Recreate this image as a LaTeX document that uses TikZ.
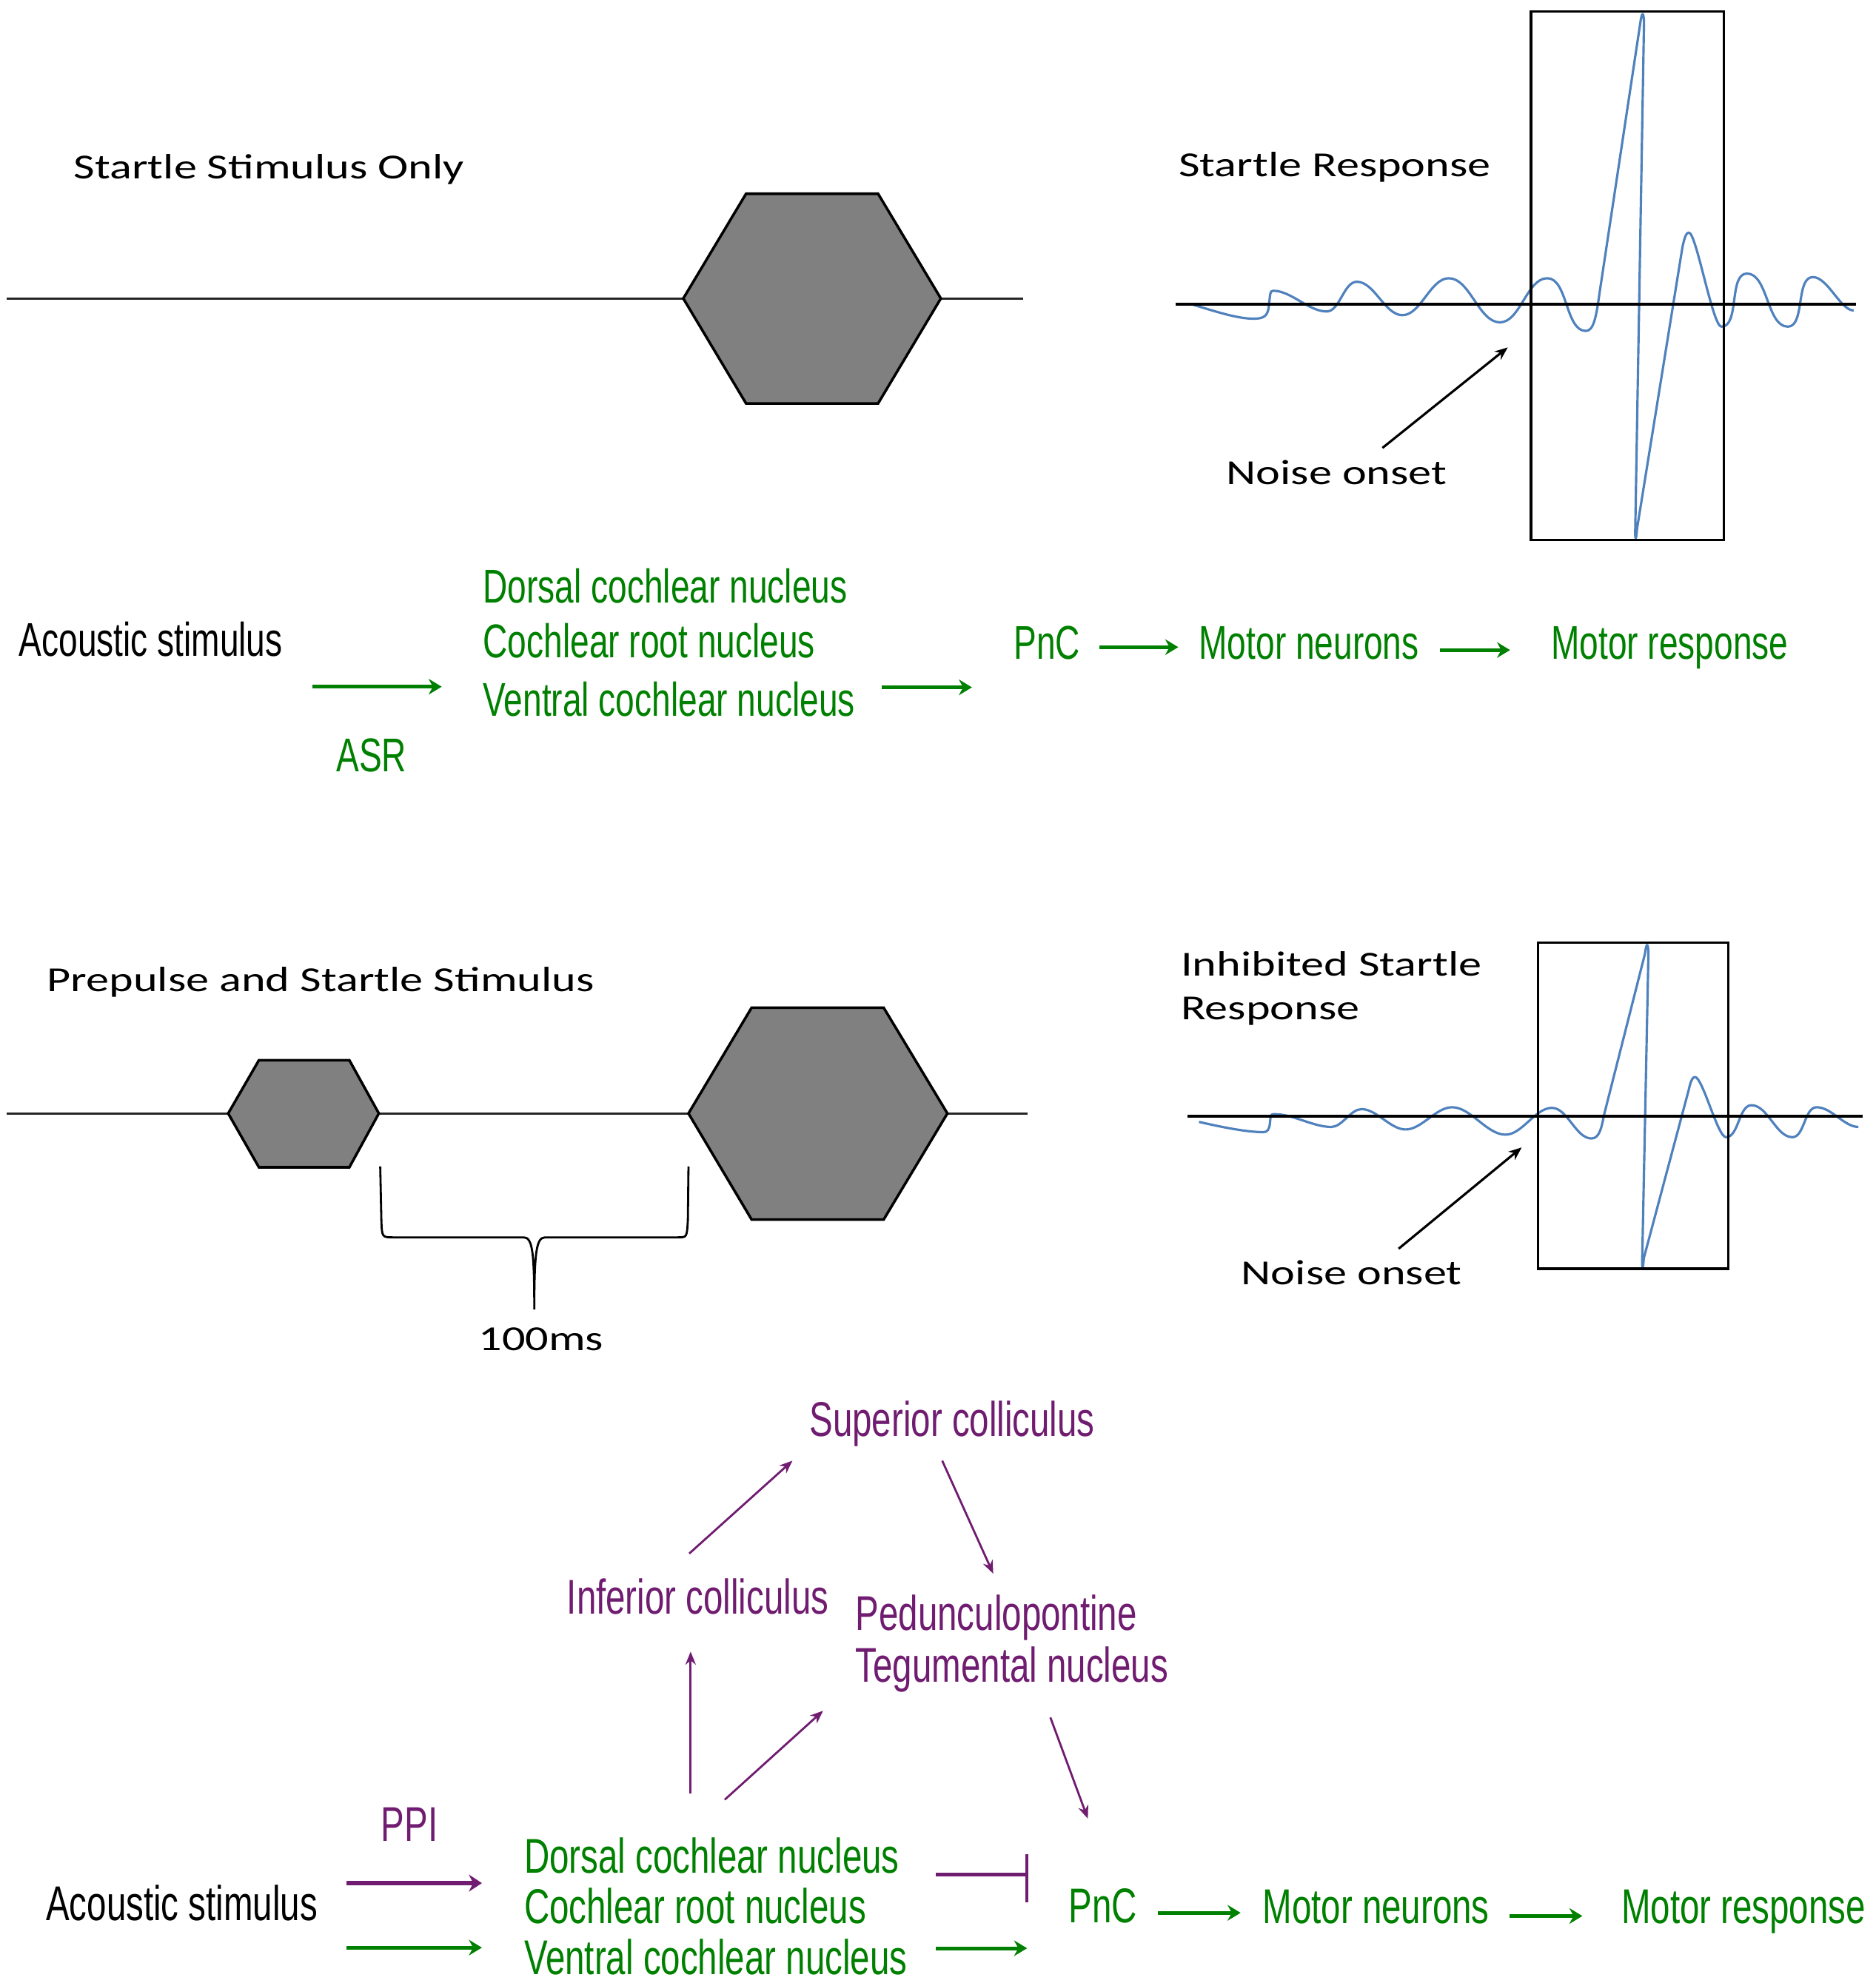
\documentclass[tikz,border=0pt]{standalone}
\usepackage{fontspec}
\setmainfont{Carlito}
\newfontfamily\calw[FakeStretch=1.31]{Carlito}
\newfontfamily\nar[FakeStretch=0.72]{Liberation Sans}
\usetikzlibrary{arrows.meta}
\definecolor{grn}{RGB}{0,128,0}
\definecolor{prp}{RGB}{112,28,112}
\definecolor{wav}{RGB}{79,129,189}
\definecolor{hexg}{RGB}{128,128,128}
\begin{document}
\begin{tikzpicture}[x=0.0170803cm,y=-0.0170803cm,
  ttl/.style={anchor=base west, inner sep=0, font=\calw\fontsize{13.5}{16}\selectfont},
  flowtxt/.style={anchor=base west, inner sep=0, font=\nar\fontsize{18.2}{22}\selectfont},
  flowtxtb/.style={anchor=base west, inner sep=0, font=\nar\fontsize{18.75}{22}\selectfont},
  btxt/.style={flowtxt, text=black},
  gtxt/.style={flowtxt, text=grn},
  btxtb/.style={flowtxtb, text=black},
  gtxtb/.style={flowtxtb, text=grn},
  ptxt/.style={flowtxtb, text=prp},
  stim/.style={line width=0.8pt, black!85},
  hexa/.style={fill=hexg, draw=black, line width=1pt, line join=miter},
  frame/.style={draw=black, line width=0.9pt},
  axisline/.style={black, line width=1.1pt},
  wave/.style={wav, line width=0.9pt, line join=round},
  garrow/.style={grn, line width=1.4pt, -{Stealth[length=5pt,width=6pt]}},
  parrow/.style={prp, line width=0.8pt, -{Stealth[length=5pt,width=4pt]}},
  pthick/.style={prp, line width=1.8pt, -{Stealth[length=5pt,width=6.5pt]}},
  karrow/.style={black, line width=0.9pt, -{Stealth[length=5pt,width=4pt]}}
]
\useasboundingbox (0,0) rectangle (1483,1568);

% ---------------- top stimulus ----------------
\node[ttl] (sso) at (58,141.5) {Startle Stimulus Only};
\draw[stim] (5,236) -- (809,236);
\draw[hexa] (540.2,236) -- (589.8,153.2) -- (694.2,153.2) -- (743.8,236) -- (694.2,319) -- (589.8,319) -- cycle;

% ---------------- top response ----------------
\node[ttl] (sr) at (931.4,139.6) {Startle Response};
\draw[wave] (942.4,240.7) .. controls (960,246) and (978,252) .. (991,252)
 .. controls (999,252) and (1002,250) .. (1003,243)
 -- (1004,234) .. controls (1004.5,230) and (1005.5,229.9) .. (1006.6,229.9)
 to[out=0,in=180,looseness=0.8] (1048.8,246.3)
 to[out=0,in=180,looseness=0.8] (1072.7,222.8)
 to[out=0,in=180,looseness=0.8] (1108.7,249.2)
 to[out=0,in=180,looseness=0.8] (1145.4,220)
 to[out=0,in=180,looseness=0.8] (1185.8,254.9)
 to[out=0,in=180,looseness=0.8] (1223.2,220)
 to[out=0,in=180,looseness=0.8] (1253.7,261.7)
 .. controls (1260,261.7) and (1262,250) .. (1264.5,232)
 -- (1296.8,18) .. controls (1298,9) and (1299.5,9) .. (1299.7,18)
 -- (1292.8,418) .. controls (1292.5,428) and (1293.5,428) .. (1294.2,418)
 -- (1330,196) .. controls (1332,186) and (1333.5,183.9) .. (1335.2,183.9)
 .. controls (1341,183.9) and (1354,258.3) .. (1360.9,258.3)
 to[out=0,in=180,looseness=0.8] (1381.1,216.3)
 to[out=0,in=180,looseness=0.8] (1413.4,258.3)
 to[out=0,in=180,looseness=0.8] (1433.2,219.1)
 .. controls (1445,219.1) and (1455,245.5) .. (1465.5,245.5);
\draw[axisline] (929.5,240.7) -- (1467.3,240.7);
\draw[frame] (1210.4,9.1) rectangle (1362.7,427);
\node[ttl] (no1) at (969.2,383) {Noise onset};
\coordinate (no1t) at (1092.9,354.2);
\coordinate (no1h) at (1192,274.7);
\draw[karrow] (no1t) -- (no1h);

% ---------------- ASR pathway ----------------
\node[btxt] (ac1) at (14.6,519) {Acoustic stimulus};
\node[gtxt] (dcn1) at (381.6,477) {Dorsal cochlear nucleus};
\node[gtxt] (crn1) at (381.6,520) {Cochlear root nucleus};
\node[gtxt] (vcn1) at (381.6,566) {Ventral cochlear nucleus};
\node[gtxt] (asr) at (265.6,610) {ASR};
\node[gtxt] (pnc1) at (801,521) {PnC};
\node[gtxt] (mn1) at (947.5,521) {Motor neurons};
\node[gtxt] (mr1) at (1226,521) {Motor response};
\coordinate (a1s) at (246.7,543);   \coordinate (a1e) at (349.2,543);
\coordinate (a2s) at (696.8,543.5); \coordinate (a2e) at (768.4,543.5);
\coordinate (a3s) at (869,511.7);   \coordinate (a3e) at (931.5,511.7);
\coordinate (a4s) at (1138.5,514);  \coordinate (a4e) at (1193.8,514);
\draw[garrow] (a1s) -- (a1e);
\draw[garrow] (a2s) -- (a2e);
\draw[garrow] (a3s) -- (a3e);
\draw[garrow] (a4s) -- (a4e);

% ---------------- bottom stimulus ----------------
\node[ttl] (pss) at (36.8,783.9) {Prepulse and Startle Stimulus};
\draw[stim] (5,880.4) -- (812.4,880.4);
\draw[hexa] (180.4,880.4) -- (204.7,838.3) -- (276.2,838.3) -- (299.5,880.4) -- (276.2,923) -- (204.7,923) -- cycle;
\draw[hexa] (544.3,880.4) -- (594.2,796.8) -- (698.6,796.8) -- (749,880.4) -- (698.6,964.3) -- (594.2,964.3) -- cycle;
\draw[black, line width=0.8pt] (300.6,922.3) -- (301.5,965) .. controls (302,978.4) .. (311,978.4)
  -- (414,978.4) .. controls (421,978.4) and (422.4,990) .. (422.4,1035.5)
  .. controls (422.4,990) and (424,978.4) .. (431,978.4)
  -- (536,978.4) .. controls (543,978.4) .. (543.8,965) -- (544.3,922.3);
\node[ttl] (ms) at (378,1068) {100ms};

% ---------------- bottom response ----------------
\node[ttl] (isr) at (933.2,771.6) {Inhibited Startle};
\node[ttl] (isr2) at (933.2,806) {Response};
\draw[wave] (947.9,887.1) .. controls (965,891) and (985,895.2) .. (999,895.2)
 .. controls (1002,895.2) and (1003.5,893) .. (1004,888) -- (1004.5,883)
 .. controls (1005,881) and (1006,881) .. (1008,881)
 to[out=0,in=180,looseness=0.8] (1052.5,891.1)
 to[out=0,in=180,looseness=0.8] (1076.4,877)
 to[out=0,in=180,looseness=0.8] (1111.2,893.1)
 to[out=0,in=180,looseness=0.8] (1148,875.5)
 to[out=0,in=180,looseness=0.8] (1190.2,897.2)
 to[out=0,in=180,looseness=0.8] (1226.9,876)
 to[out=0,in=180,looseness=0.8] (1258.1,900.2)
 .. controls (1264,900.2) and (1266,893) .. (1268,882)
 -- (1300.5,754) .. controls (1301.5,745) and (1303,745) .. (1303.2,754)
 -- (1298.3,995) .. controls (1298,1004) and (1299,1004) .. (1299.5,995)
 -- (1335,862) .. controls (1337,853) and (1338.5,851.6) .. (1340,851.6)
 .. controls (1346,851.6) and (1358,899.2) .. (1364.5,899.2)
 to[out=0,in=180,looseness=0.8] (1384.7,873.9)
 to[out=0,in=180,looseness=0.8] (1417,899.2)
 to[out=0,in=180,looseness=0.8] (1436.1,875.5)
 .. controls (1448,875.5) and (1458,891.1) .. (1469.2,891.1);
\draw[axisline] (938.7,882.4) -- (1472.8,882.4);
\draw[frame] (1215.9,745.2) rectangle (1366.4,1003.2);
\node[ttl] (no2) at (981,1015.7) {Noise onset};
\coordinate (no2t) at (1105.7,987.4);
\coordinate (no2h) at (1203,907.3);
\draw[karrow] (no2t) -- (no2h);

% ---------------- PPI pathway ----------------
\node[ptxt] (sc) at (639.6,1135.6) {Superior colliculus};
\node[ptxt] (ic) at (447.8,1276.4) {Inferior colliculus};
\node[ptxt] (ppt1) at (676,1289) {Pedunculopontine};
\node[ptxt] (ppt2) at (676,1329.8) {Tegumental nucleus};
\node[ptxt] (ppi) at (301,1456) {PPI};
\node[btxtb] (ac2) at (36,1518.4) {Acoustic stimulus};
\node[gtxtb] (dcn2) at (414,1481) {Dorsal cochlear nucleus};
\node[gtxtb] (crn2) at (414,1521) {Cochlear root nucleus};
\node[gtxtb] (vcn2) at (414,1561.3) {Ventral cochlear nucleus};
\node[gtxtb] (pnc2) at (844.6,1520) {PnC};
\node[gtxtb] (mn2) at (997.8,1521) {Motor neurons};
\node[gtxtb] (mr2) at (1281.4,1521) {Motor response};

\coordinate (p1s) at (544.9,1228.4); \coordinate (p1e) at (626.5,1155);
\coordinate (p2s) at (744.9,1155);   \coordinate (p2e) at (785.2,1244.3);
\coordinate (p3s) at (546,1418);     \coordinate (p3e) at (546,1306);
\coordinate (p4s) at (573,1423);     \coordinate (p4e) at (650.7,1352.7);
\coordinate (p5s) at (830.4,1358);   \coordinate (p5e) at (860,1438);
\draw[parrow] (p1s) -- (p1e);
\draw[parrow] (p2s) -- (p2e);
\draw[parrow] (p3s) -- (p3e);
\draw[parrow] (p4s) -- (p4e);
\draw[parrow] (p5s) -- (p5e);

\coordinate (b1s) at (274,1489);    \coordinate (b1e) at (381,1489);
\coordinate (b2s) at (274,1540);    \coordinate (b2e) at (381,1540);
\coordinate (b3s) at (739.7,1482.3); \coordinate (b3e) at (811.6,1482.3);
\coordinate (b4s) at (739.7,1540.5); \coordinate (b4e) at (812,1540.5);
\coordinate (b5s) at (915.5,1512.5); \coordinate (b5e) at (980.8,1512.5);
\coordinate (b6s) at (1193.6,1515);  \coordinate (b6e) at (1251,1515);
\draw[pthick] (b1s) -- (b1e);
\draw[garrow] (b2s) -- (b2e);
\draw[prp, line width=1.4pt] (b3s) -- (b3e);
\draw[prp, line width=1.2pt] ([yshift=-0.37cm]b3e) -- ([yshift=0.28cm]b3e);
\draw[garrow] (b4s) -- (b4e);
\draw[garrow] (b5s) -- (b5e);
\draw[garrow] (b6s) -- (b6e);
\end{tikzpicture}
\end{document}
